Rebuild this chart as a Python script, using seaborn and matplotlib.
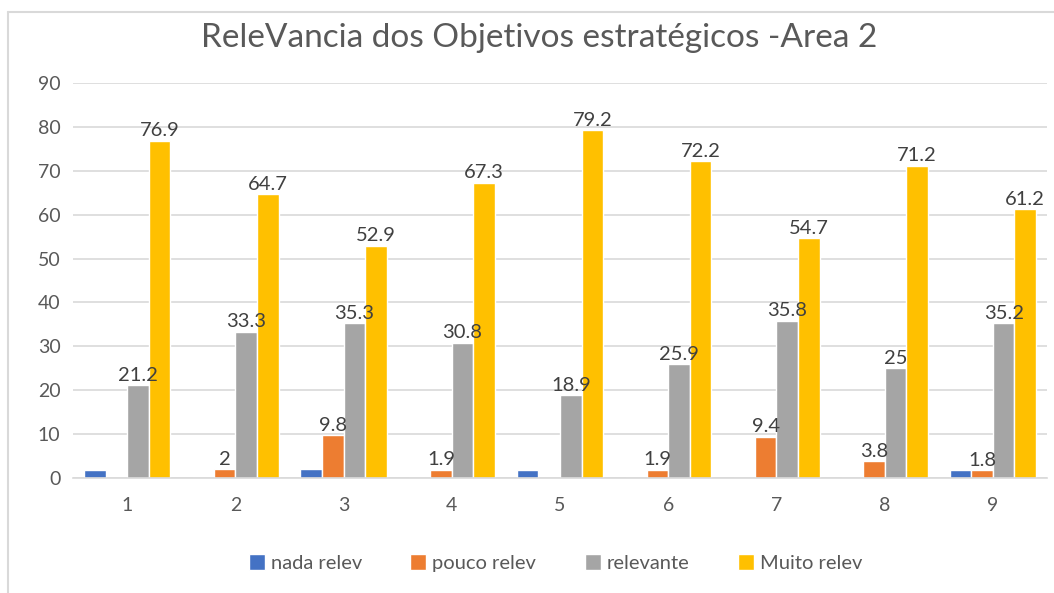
import numpy as np
import pandas as pd
import seaborn as sns
import matplotlib.pyplot as plt
from matplotlib.lines import Line2D

objetivos = ["1", "2", "3", "4", "5", "6", "7", "8", "9"]
series = ["nada relev", "pouco relev", "relevante", "Muito relev"]
nada = [1.9, 0, 2, 0, 1.9, 0, 0, 0, 1.8]
pouco = [0, 2, 9.8, 1.9, 0, 1.9, 9.4, 3.8, 1.8]
relevante = [21.2, 33.3, 35.3, 30.8, 18.9, 25.9, 35.8, 25, 35.2]
muito = [76.9, 64.7, 52.9, 67.3, 79.2, 72.2, 54.7, 71.2, 61.2]
cores = ["#4472c4", "#ed7d31", "#a5a5a5", "#ffc000"]

df = pd.DataFrame({
    "objetivo": objetivos * 4,
    "serie": np.repeat(series, len(objetivos)),
    "valor": nada + pouco + relevante + muito,
})

sns.set_style("white")
plt.rcParams["font.family"] = ["Lato", "DejaVu Sans"]

fig = plt.figure(figsize=(10.54, 5.93), dpi=100)
ax = fig.add_axes([0.0693, 0.194, 0.924, 0.666])

sns.barplot(data=df, x="objetivo", y="valor", hue="serie", palette=cores,
            width=0.80, gap=0, saturation=1, errorbar=None, ax=ax)

# data labels (Excel shows none for the first series and none for zeros)
for cont, vals in zip(ax.containers[1:], [pouco, relevante, muito]):
    labels = [f"{v:g}" if v > 0 else "" for v in vals]
    ax.bar_label(cont, labels=labels, padding=1, fontsize=14.5, color="#404040")

ax.set_ylim(0, 90)
ax.set_yticks(range(0, 91, 10))
ax.set_xlim(-0.5, 8.5)
ax.yaxis.grid(True, color="#d9d9d9", linewidth=1.2)
ax.set_axisbelow(True)
for s in ["top", "right", "left"]:
    ax.spines[s].set_visible(False)
ax.spines["bottom"].set_color("#d9d9d9")
ax.spines["bottom"].set_linewidth(1.2)
ax.tick_params(axis="y", length=0, labelsize=14, labelcolor="#595959", pad=9)
ax.tick_params(axis="x", length=0, labelsize=14, labelcolor="#595959", pad=14)
ax.set_xlabel("")
ax.set_ylabel("")

fig.text(0.512, 0.936, "ReleVancia dos Objetivos estratégicos -Area 2",
         ha="center", va="center", fontsize=24, color="#595959")

handles = ax.get_legend_handles_labels()
ax.legend_.remove()
fig.legend(handles[0], handles[1], loc="center", bbox_to_anchor=(0.527, 0.05),
           ncol=4, frameon=False, fontsize=14.5, labelcolor="#595959",
           handlelength=0.8, handleheight=0.8, handletextpad=0.3, columnspacing=2.4)

# chart border (left and top edges visible in the original)
fig.add_artist(Line2D([0.008, 0.008], [0, 0.98], color="#d9d9d9", lw=1.5))
fig.add_artist(Line2D([0.008, 1], [0.98, 0.98], color="#d9d9d9", lw=1.5))

fig.savefig("out.png", dpi=100)
